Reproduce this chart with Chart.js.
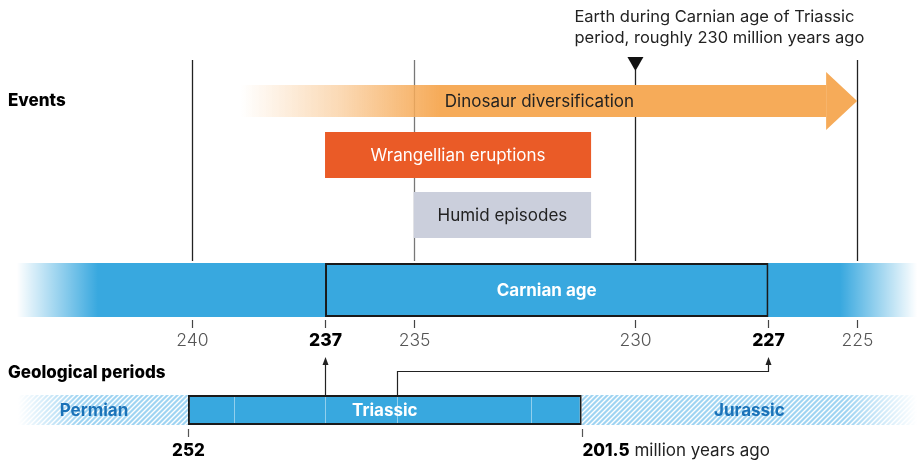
<!DOCTYPE html>
<html>
<head>
<meta charset="utf-8">
<script src="https://cdn.jsdelivr.net/npm/chart.js@4.4.1/dist/chart.umd.min.js"></script>
<style>
  html, body { margin: 0; padding: 0; background: #fff; }
  canvas { display: block; }
</style>
</head>
<body>
<canvas id="timeline" width="917" height="461"></canvas>
<script>
// upper timeline (million years ago)
const topTicks = [240, 237, 235, 230, 227, 225];
const boldTicks = [237, 227];
const guideLines = [240, 235, 230, 225];
const markerAge = 230;

const eventNames = ['Dinosaur diversification', 'Wrangellian eruptions', 'Humid episodes'];
const eventStart = [238.9, 237, 235];
const eventEnd = [225, 231, 231];

const carnianAge = [237, 227];

// lower timeline
const periodNames = ['Permian', 'Triassic', 'Jurassic'];
const periodStart = [276.1, 252, 201.5];
const periodEnd = [252, 201.5, 158.5];
const triassicSplits = [246.1, 234.4, 225.2, 208];
const periodTicks = [252, 201.5];

// styling
const FONT = 'Inter, "Noto Sans", sans-serif';
const BLUE = '#38a8df';
const DINO = '#f6ab59';
const HEAD_LEN = 0.7;      // arrow head length, in years
const DINO_SOLID = 234.4;  // where the dinosaur arrow stops fading in

// rows: pixel-like y positions on a 0..461 scale
const ROW = { dino: 101, wrang: 155, humid: 215, carnian: 290, period: 410 };

function hatch() {
  const s = 5;
  const c = document.createElement('canvas');
  c.width = s; c.height = s;
  const g = c.getContext('2d');
  g.fillStyle = '#9fd4f2';
  g.fillRect(0, 0, s, s);
  g.strokeStyle = '#ffffff';
  g.lineWidth = 1.4;
  g.beginPath();
  g.moveTo(0, s); g.lineTo(s, 0);
  g.moveTo(-1, 1); g.lineTo(1, -1);
  g.moveTo(s - 1, s + 1); g.lineTo(s + 1, s - 1);
  g.stroke();
  return g.createPattern(c, 'repeat');
}
const HATCH = hatch();

function dinoFill(c) {
  const s = c.chart.scales.x;
  if (!s || !s.width) return DINO;
  const g = c.chart.ctx.createLinearGradient(s.getPixelForValue(eventStart[0]), 0, s.getPixelForValue(DINO_SOLID), 0);
  g.addColorStop(0, 'rgba(246,171,89,0)');
  g.addColorStop(0.5, 'rgba(246,171,89,0.45)');
  g.addColorStop(1, DINO);
  return g;
}

function fade(ctx, x0, x1, y, h) {
  const g = ctx.createLinearGradient(x0, 0, x1, 0);
  g.addColorStop(0, 'rgba(255,255,255,1)');
  g.addColorStop(1, 'rgba(255,255,255,0)');
  ctx.fillStyle = g;
  ctx.fillRect(Math.min(x0, x1), y - h / 2, Math.abs(x1 - x0), h);
}

function arrowHead(ctx, x, y) {
  ctx.beginPath();
  ctx.moveTo(x, y);
  ctx.lineTo(x - 3, y + 8);
  ctx.lineTo(x + 3, y + 8);
  ctx.closePath();
  ctx.fill();
}

const decorations = {
  id: 'decorations',
  beforeDatasetsDraw(chart) {
    const { ctx } = chart;
    const x = chart.scales.x, y = chart.scales.y;
    ctx.save();
    // guide lines behind the event bars
    guideLines.forEach(v => {
      const px = Math.round(x.getPixelForValue(v)) + 0.5;
      ctx.strokeStyle = v === 235 ? '#777' : '#222';
      ctx.lineWidth = 1.3;
      ctx.beginPath();
      ctx.moveTo(px, y.getPixelForValue(v === markerAge ? 70 : 60));
      ctx.lineTo(px, y.getPixelForValue(261));
      ctx.stroke();
    });
    ctx.restore();
  },
  afterDatasetsDraw(chart) {
    const { ctx } = chart;
    const x = chart.scales.x, x2 = chart.scales.x2, y = chart.scales.y;
    ctx.save();

    // dinosaur arrow head
    const tip = x.getPixelForValue(eventEnd[0]);
    const hb = x.getPixelForValue(eventEnd[0] + HEAD_LEN);
    const yc = y.getPixelForValue(ROW.dino);
    ctx.fillStyle = DINO;
    ctx.beginPath();
    ctx.moveTo(hb, yc - 29);
    ctx.lineTo(tip, yc);
    ctx.lineTo(hb, yc + 29);
    ctx.closePath();
    ctx.fill();

    // faded ends of the bands
    fade(ctx, 17, 98, y.getPixelForValue(ROW.carnian), 54);
    fade(ctx, 917, 840, y.getPixelForValue(ROW.carnian), 54);
    ctx.fillStyle = '#fff';
    ctx.fillRect(0, y.getPixelForValue(ROW.carnian) - 27, 17, 54);
    fade(ctx, 18, 80, y.getPixelForValue(ROW.period), 30);
    ctx.fillStyle = '#fff';
    ctx.fillRect(0, y.getPixelForValue(ROW.period) - 15, 18, 30);
    fade(ctx, 917, 845, y.getPixelForValue(ROW.period), 30);

    // subdivisions inside the Triassic box
    ctx.strokeStyle = 'rgba(255,255,255,0.45)';
    ctx.lineWidth = 1;
    const py = y.getPixelForValue(ROW.period);
    triassicSplits.forEach(v => {
      const px = Math.round(x2.getPixelForValue(v)) + 0.5;
      ctx.beginPath();
      ctx.moveTo(px, py - 13);
      ctx.lineTo(px, py + 13);
      ctx.stroke();
    });

    // bar labels
    ctx.textBaseline = 'middle';
    ctx.textAlign = 'center';
    const label = (di, text, font, color, dx) => {
      const el = chart.getDatasetMeta(di).data[0];
      ctx.font = font;
      ctx.fillStyle = color;
      ctx.fillText(text, (el.x + el.base) / 2 + (dx || 0), el.y + 1);
    };
    label(0, eventNames[0], '17px ' + FONT, '#222', 6);
    label(1, eventNames[1], '17px ' + FONT, '#fff');
    label(2, eventNames[2], '17px ' + FONT, '#222');
    label(4, 'Carnian age', 'bold 17px ' + FONT, '#fff');
    label(5, periodNames[0], 'bold 17px ' + FONT, '#1a72b8');
    label(6, periodNames[1], 'bold 17px ' + FONT, '#fff');
    label(7, periodNames[2], 'bold 17px ' + FONT, '#1a72b8');

    // section titles
    ctx.textAlign = 'left';
    ctx.fillStyle = '#000';
    ctx.font = '800 17px ' + FONT;
    ctx.fillText('Events', 8, y.getPixelForValue(101));
    ctx.fillText('Geological periods', 8, y.getPixelForValue(373));

    // marker and annotation
    const mx = x.getPixelForValue(markerAge);
    ctx.fillStyle = '#111';
    ctx.beginPath();
    ctx.moveTo(mx - 8, y.getPixelForValue(57));
    ctx.lineTo(mx + 8, y.getPixelForValue(57));
    ctx.lineTo(mx, y.getPixelForValue(71));
    ctx.closePath();
    ctx.fill();
    ctx.font = '16.5px ' + FONT;
    ctx.fillStyle = '#222';
    ctx.fillText('Earth during Carnian age of Triassic', mx - 61, y.getPixelForValue(17));
    ctx.fillText('period, roughly 230 million years ago', mx - 61, y.getPixelForValue(38));

    // upper axis ticks + labels
    ctx.textAlign = 'center';
    topTicks.forEach(v => {
      const px = Math.round(x.getPixelForValue(v)) + 0.5;
      ctx.strokeStyle = '#444';
      ctx.lineWidth = 1.2;
      ctx.beginPath();
      ctx.moveTo(px, y.getPixelForValue(320));
      ctx.lineTo(px, y.getPixelForValue(328));
      ctx.stroke();
      const bold = boldTicks.includes(v);
      ctx.font = (bold ? '800 ' : '300 ') + '17.5px ' + FONT;
      ctx.fillStyle = bold ? '#000' : '#555';
      ctx.fillText(String(v), px, y.getPixelForValue(341));
    });

    // lower axis ticks + labels
    periodTicks.forEach((v, i) => {
      const px = Math.round(x2.getPixelForValue(v)) + 0.5;
      ctx.strokeStyle = '#555';
      ctx.beginPath();
      ctx.moveTo(px, y.getPixelForValue(429));
      ctx.lineTo(px, y.getPixelForValue(437));
      ctx.stroke();
      ctx.font = '800 17px ' + FONT;
      ctx.fillStyle = '#000';
      const ly = y.getPixelForValue(451);
      if (i === 0) {
        ctx.textAlign = 'center';
        ctx.fillText(String(v), px, ly);
      } else {
        ctx.textAlign = 'left';
        ctx.fillText(String(v), px, ly);
        const w = ctx.measureText(String(v)).width;
        ctx.font = '17px ' + FONT;
        ctx.fillStyle = '#222';
        ctx.fillText(' million years ago', px + w, ly);
      }
    });

    // connectors from the Triassic box to the Carnian bounds
    ctx.strokeStyle = '#222';
    ctx.fillStyle = '#222';
    ctx.lineWidth = 1.2;
    const top = y.getPixelForValue(395), elbow = y.getPixelForValue(371.5), end = y.getPixelForValue(357);
    [[triassicSplits[1], carnianAge[0]], [triassicSplits[2], carnianAge[1]]].forEach(([from, to]) => {
      const a = Math.round(x2.getPixelForValue(from)) + 0.5;
      const b = Math.round(x.getPixelForValue(to)) + 0.5;
      ctx.beginPath();
      ctx.moveTo(a, top);
      if (Math.abs(a - b) > 2) {
        ctx.lineTo(a, elbow);
        ctx.lineTo(b, elbow);
      }
      ctx.lineTo(b, end + 6);
      ctx.stroke();
      arrowHead(ctx, b, end);
    });

    ctx.restore();
  }
};

const band = (data, row, thick, color, extra) => Object.assign({
  data: [{ x: data, y: row }],
  backgroundColor: color,
  barThickness: thick,
  grouped: false,
  borderWidth: 0,
  borderSkipped: false,
  inflateAmount: 0,
  order: 0
}, extra || {});

const boxed = { borderWidth: 2, borderColor: '#1a1a1a' };

new Chart(document.getElementById('timeline'), {
  type: 'bar',
  data: {
    datasets: [
      band([eventStart[0], eventEnd[0] + HEAD_LEN], ROW.dino, 32, dinoFill),
      band([eventStart[1], eventEnd[1]], ROW.wrang, 46, '#ea5b27'),
      band([eventStart[2], eventEnd[2]], ROW.humid, 46, '#cbcfdc'),
      band([244.33, 223.65], ROW.carnian, 54, BLUE, { order: 5 }),
      band(carnianAge, ROW.carnian, 54, BLUE, boxed),
      band([periodStart[0], periodEnd[0]], ROW.period, 30, HATCH, { xAxisID: 'x2' }),
      band([periodStart[1], periodEnd[1]], ROW.period, 30, BLUE, Object.assign({ xAxisID: 'x2' }, boxed)),
      band([periodStart[2], periodEnd[2]], ROW.period, 30, HATCH, { xAxisID: 'x2' })
    ]
  },
  options: {
    indexAxis: 'y',
    responsive: false,
    animation: false,
    devicePixelRatio: 1,
    layout: { padding: 0, autoPadding: false },
    plugins: { legend: { display: false }, tooltip: { enabled: false } },
    scales: {
      x: { type: 'linear', reverse: true, min: 223.65, max: 244.33, offset: false, display: false },
      x2: { type: 'linear', reverse: true, min: 158.5, max: 276.1, offset: false, display: false },
      y: { type: 'linear', reverse: true, min: 0, max: 461, offset: false, display: false }
    }
  },
  plugins: [decorations]
});
</script>
</body>
</html>
